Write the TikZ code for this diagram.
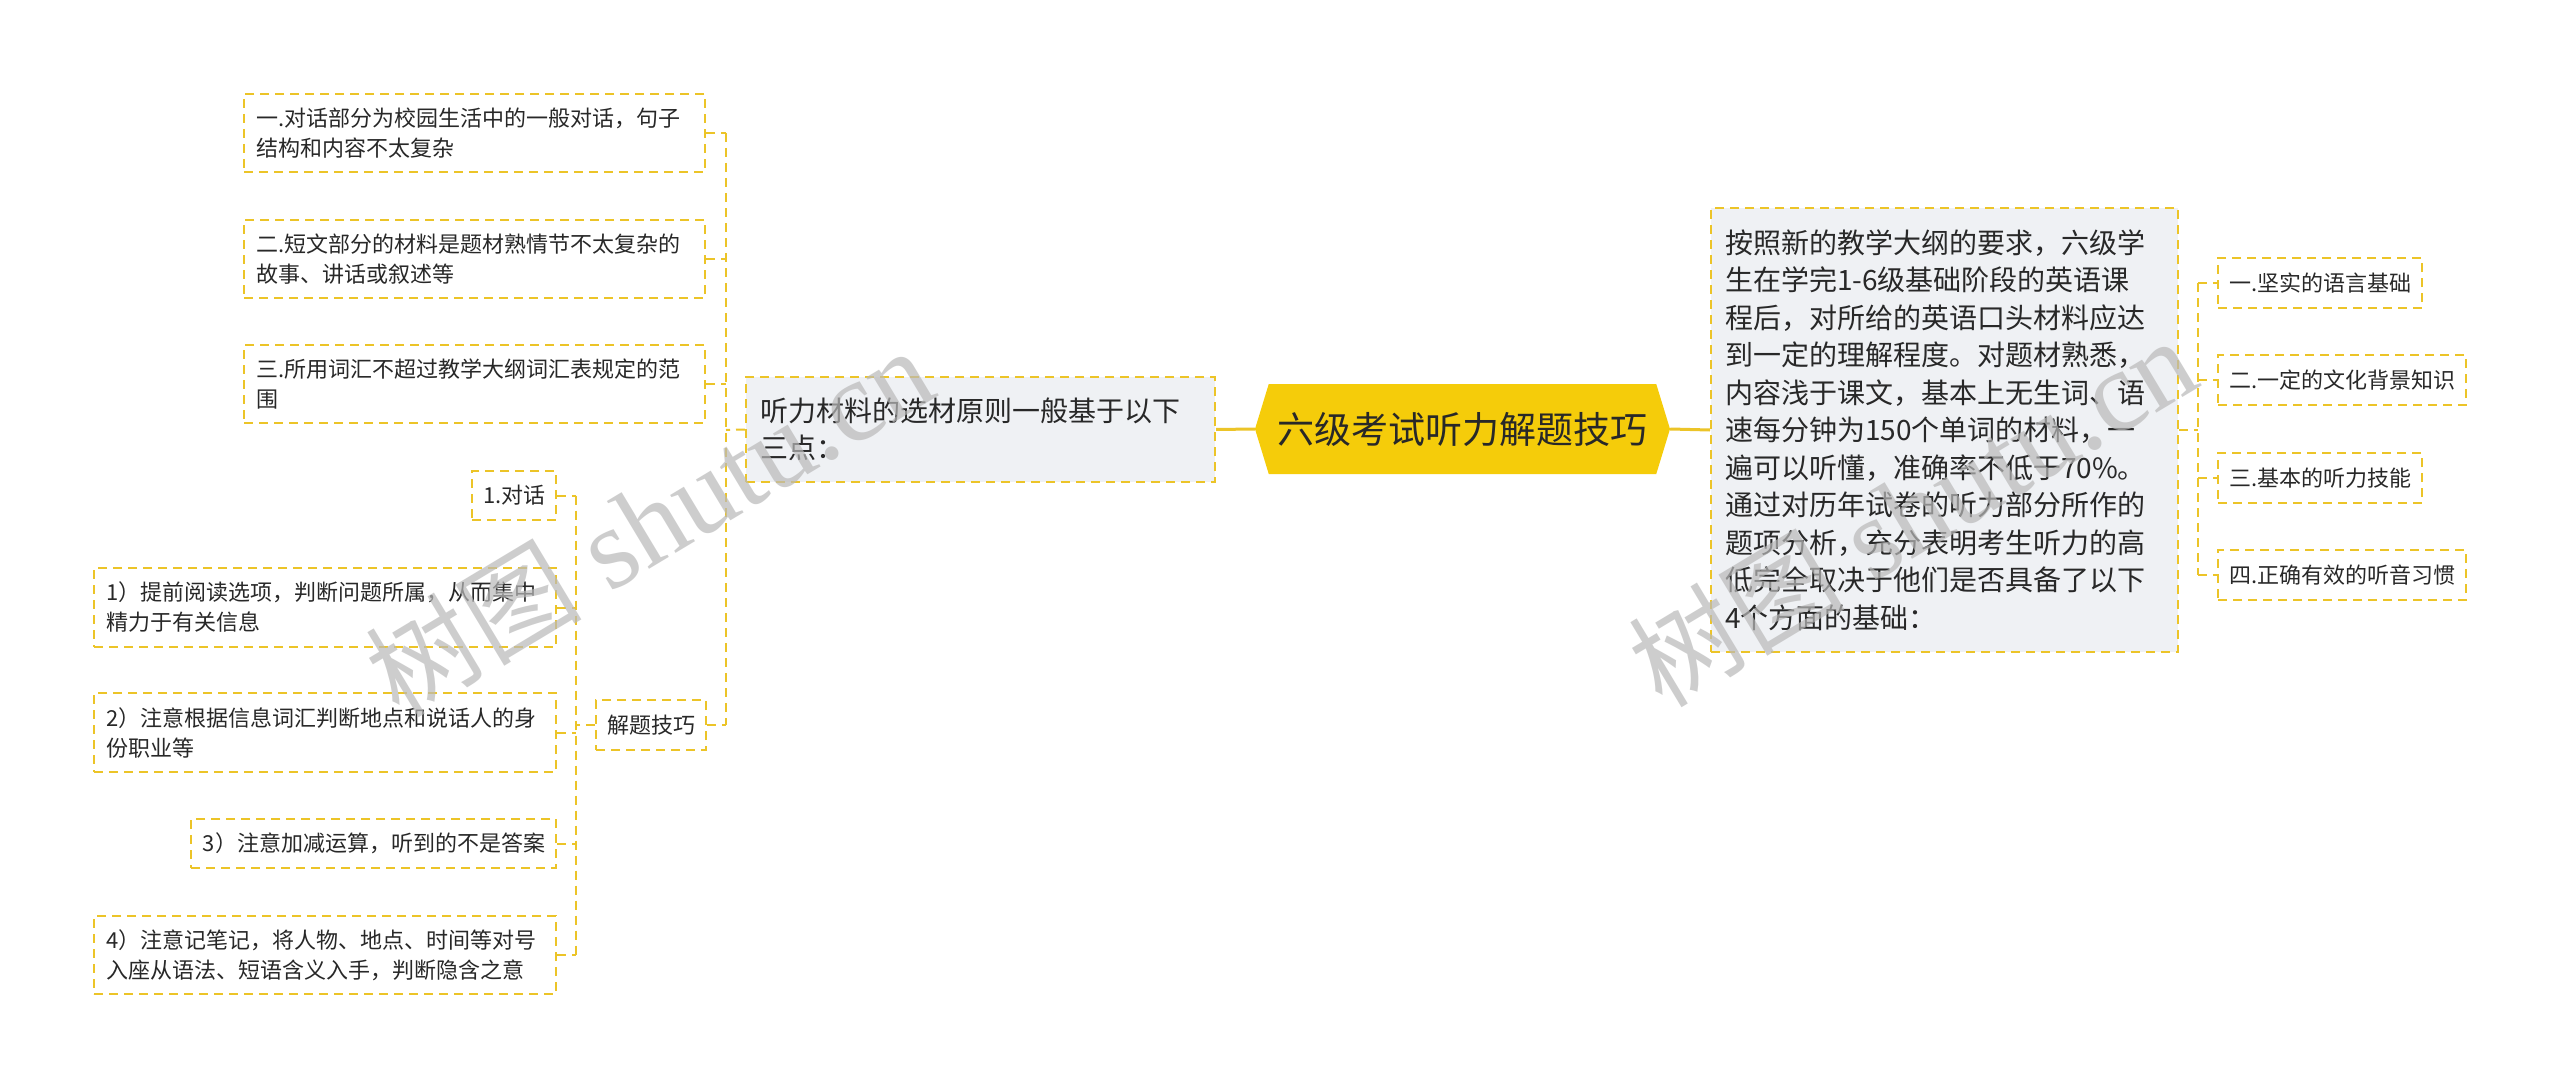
\documentclass[tikz,border=0pt]{standalone}
\usepackage{fontspec}
\newfontfamily\cjk{Noto Sans CJK SC}
\newfontfamily\wmserif{Liberation Serif}
\usetikzlibrary{shapes.symbols}
\definecolor{lineY}{RGB}{236,196,40}
\definecolor{hexY}{RGB}{245,204,10}
\definecolor{boxG}{RGB}{239,241,244}
\definecolor{txt}{RGB}{40,40,40}
\definecolor{wmc}{RGB}{185,185,185}
\begin{document}
\begin{tikzpicture}[x=1pt,y=-1pt,
  box/.style={draw=lineY, line width=2pt, dash pattern=on 9pt off 6pt, fill=white,
    rectangle, inner xsep=12pt, inner ysep=0pt, align=left, text=txt,
    font=\cjk\fontsize{22}{30}\selectfont, anchor=center},
  bigbox/.style={box, fill=boxG, inner xsep=14pt, font=\cjk\fontsize{28}{37.5}\selectfont},
  conn/.style={draw=lineY, line width=2pt, dash pattern=on 9pt off 6pt},
  mainconn/.style={draw=lineY, line width=3pt},
  wmark/.style={rotate=31, text=wmc, opacity=0.7, inner sep=0pt}
]
\fill[white] (0,0) rectangle (2560,1089);
\useasboundingbox (0,0) rectangle (2560,1089);

% central topic
\node[signal, signal to=east and west, signal pointer angle=146, fill=hexY,
  minimum width=415pt, minimum height=90pt, inner sep=0pt, text=txt,
  font=\cjk\fontsize{37}{44}\selectfont] (ct) at (1462.5,429) {六级考试听力解题技巧};

% left branch
\node[bigbox, minimum width=469pt, text width=441pt, minimum height=105pt] (tl) at (980.5,429.5)
  {听力材料的选材原则一般基于以下\\三点：};
\node[box, minimum width=461pt, text width=437pt, minimum height=78pt] (b1) at (474.5,133)
  {一.对话部分为校园生活中的一般对话，句子\\结构和内容不太复杂};
\node[box, minimum width=461pt, text width=437pt, minimum height=78pt] (b2) at (474.5,259)
  {二.短文部分的材料是题材熟情节不太复杂的\\故事、讲话或叙述等};
\node[box, minimum width=461pt, text width=437pt, minimum height=78pt] (b3) at (474.5,384)
  {三.所用词汇不超过教学大纲词汇表规定的范\\围};
\node[box, minimum width=110pt, text width=88pt, minimum height=50pt, inner xsep=11pt] (jt) at (651,725)
  {解题技巧};
\node[box, minimum width=84pt, text width=62pt, minimum height=49pt, inner xsep=11pt, align=right] (dh) at (514,495.5)
  {1.对话};
\node[box, minimum width=462pt, text width=438pt, minimum height=79pt] (s1) at (325,607.5)
  {1）提前阅读选项，判断问题所属，从而集中\\精力于有关信息};
\node[box, minimum width=462pt, text width=438pt, minimum height=79pt] (s2) at (325,732.5)
  {2）注意根据信息词汇判断地点和说话人的身\\份职业等};
\node[box, minimum width=365pt, text width=343pt, minimum height=49pt, inner xsep=11pt, align=right] (s3) at (373.5,843.5)
  {3）注意加减运算，听到的不是答案};
\node[box, minimum width=462pt, text width=438pt, minimum height=78pt] (s4) at (325,955)
  {4）注意记笔记，将人物、地点、时间等对号\\入座从语法、短语含义入手，判断隐含之意};

% right branch
\node[bigbox, minimum width=467pt, text width=439pt, minimum height=444pt] (rb) at (1944.5,430)
  {按照新的教学大纲的要求，六级学\\生在学完1-6级基础阶段的英语课\\程后，对所给的英语口头材料应达\\到一定的理解程度。对题材熟悉，\\内容浅于课文，基本上无生词、语\\速每分钟为150个单词的材料，一\\遍可以听懂，准确率不低于70\%。\\通过对历年试卷的听力部分所作的\\题项分析，充分表明考生听力的高\\低完全取决于他们是否具备了以下\\4个方面的基础：};
\node[box, minimum width=204pt, text width=182pt, minimum height=50pt, inner xsep=11pt] (r1) at (2320,283) {一.坚实的语言基础};
\node[box, minimum width=248pt, text width=226pt, minimum height=50pt, inner xsep=11pt] (r2) at (2342,380) {二.一定的文化背景知识};
\node[box, minimum width=204pt, text width=182pt, minimum height=50pt, inner xsep=11pt] (r3) at (2320,478) {三.基本的听力技能};
\node[box, minimum width=248pt, text width=226pt, minimum height=50pt, inner xsep=11pt] (r4) at (2342,575) {四.正确有效的听音习惯};

% bars
\coordinate (lbar) at (726,430);
\coordinate (jbar) at (576,725);
\coordinate (rbar) at (2198,430);

% main connectors
\draw[mainconn] (ct.west) -- (tl.east);
\draw[mainconn] (ct.east) -- (rb.west);

% left branch connectors
\draw[conn] (tl.west) -- (lbar);
\draw[conn] (b1.east -| lbar) -- (jt.east -| lbar);
\draw[conn] (b1.east) -- (b1.east -| lbar);
\draw[conn] (b2.east) -- (b2.east -| lbar);
\draw[conn] (b3.east) -- (b3.east -| lbar);
\draw[conn] (jt.east) -- (jt.east -| lbar);

\draw[conn] (jt.west) -- (jbar);
\draw[conn] (dh.east -| jbar) -- (s4.east -| jbar);
\draw[conn] (dh.east) -- (dh.east -| jbar);
\draw[conn] (s1.east) -- (s1.east -| jbar);
\draw[conn] (s2.east) -- (s2.east -| jbar);
\draw[conn] (s3.east) -- (s3.east -| jbar);
\draw[conn] (s4.east) -- (s4.east -| jbar);

% right branch connectors
\draw[conn] (rb.east) -- (rbar);
\draw[conn] (r1.west -| rbar) -- (r4.west -| rbar);
\draw[conn] (r1.west -| rbar) -- (r1.west);
\draw[conn] (r2.west -| rbar) -- (r2.west);
\draw[conn] (r3.west -| rbar) -- (r3.west);
\draw[conn] (r4.west -| rbar) -- (r4.west);

% watermarks
\node[wmark] (wm1) at (649,522) {{\cjk\fontsize{108}{110}\selectfont 树图}\hspace{28pt}{\wmserif\fontsize{115}{115}\selectfont shutu.cn}};
\node[wmark] (wm2) at (1912,512) {{\cjk\fontsize{108}{110}\selectfont 树图}\hspace{28pt}{\wmserif\fontsize{115}{115}\selectfont shutu.cn}};
\end{tikzpicture}
\end{document}
